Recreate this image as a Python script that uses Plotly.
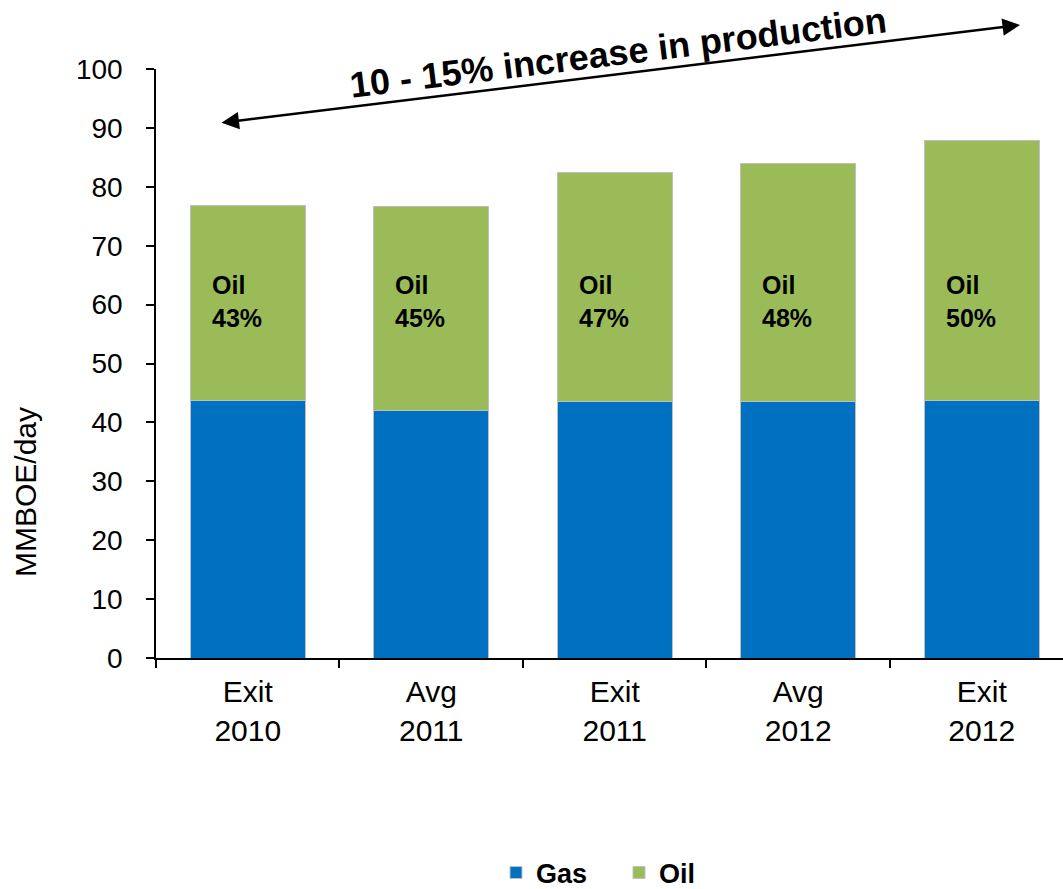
import plotly.graph_objects as go

categories = ["Exit<br>2010", "Avg<br>2011", "Exit<br>2011", "Avg<br>2012", "Exit<br>2012"]
gas = [43.8, 42.1, 43.5, 43.5, 43.8]
oil = [33.1, 34.5, 39.0, 40.5, 44.0]
oil_share = ["43%", "45%", "47%", "48%", "50%"]
title_text = "10 - 15% increase in production"

FONT = "Arial, Liberation Sans, sans-serif"

fig = go.Figure()
fig.add_trace(go.Bar(name="Gas", x=categories, y=gas, width=0.627,
                     marker=dict(color="#0070C0", line=dict(color="#BFBFBF", width=1))))
fig.add_trace(go.Bar(name="Oil", x=categories, y=oil, width=0.627,
                     marker=dict(color="#9BBB59", line=dict(color="#BFBFBF", width=1))))

annotations = []
for i, (c, s) in enumerate(zip(categories, oil_share)):
    annotations.append(dict(x=c, y=60.5, xref="x", yref="y", text=f"<b>Oil<br>{s}</b>",
                            showarrow=False, align="left", xshift=-11,
                            font=dict(family=FONT, size=25, color="black")))

# y axis title
annotations.append(dict(x=(25 - 156) / 907, y=(658 - 492) / 589, xref="paper", yref="paper",
                        xanchor="center", yanchor="middle", text="MMBOE/day",
                        textangle=-90, showarrow=False,
                        font=dict(family=FONT, size=30, color="black")))

# double-headed arrow
annotations.append(dict(x=(1020 - 156) / 907, y=(658 - 25) / 589, xref="paper", yref="paper",
                        ax=-800, ay=98, axref="pixel", ayref="pixel",
                        text="", showarrow=True, arrowhead=2, startarrowhead=2,
                        arrowside="end+start", arrowsize=1.4, startarrowsize=1.4,
                        arrowwidth=2.5, arrowcolor="black", standoff=0, startstandoff=0))

# rotated title text
annotations.append(dict(x=(618 - 156) / 907, y=(658 - 52) / 589, xref="paper", yref="paper",
                        xanchor="center", yanchor="middle",
                        text=f"<b>{title_text}</b>", showarrow=False, textangle=-7,
                        font=dict(family=FONT, size=36, color="black")))

fig.update_layout(
    barmode="stack",
    width=1063, height=889,
    margin=dict(l=156, r=0, t=69, b=231, autoexpand=False),
    paper_bgcolor="white", plot_bgcolor="white",
    font=dict(family=FONT, color="black"),
    showlegend=True,
    legend=dict(orientation="h", x=(496 - 156) / 907, xanchor="left", y=-0.365, yanchor="middle",
                font=dict(family=FONT, size=27, color="black", weight="bold"),
                entrywidth=78, entrywidthmode="pixels", traceorder="normal",
                bgcolor="rgba(0,0,0,0)"),
    annotations=annotations,
)
fig.update_xaxes(type="category", range=[-0.5, 4.443], showline=True, linecolor="black", linewidth=1.5,
                 ticks="outside", tickson="boundaries", ticklen=8, tickwidth=1.5, tickcolor="black",
                 tickfont=dict(family=FONT, size=30, color="black"), showgrid=False,
                 ticklabelstandoff=6)
fig.update_yaxes(range=[0, 100], dtick=10, showline=True, linecolor="black", linewidth=1.5,
                 ticks="outside", ticklen=8, tickwidth=1.5, tickcolor="black",
                 tickfont=dict(family=FONT, size=28, color="black"), showgrid=False,
                 zeroline=False, ticklabelstandoff=18)

fig.write_html("out.html")
